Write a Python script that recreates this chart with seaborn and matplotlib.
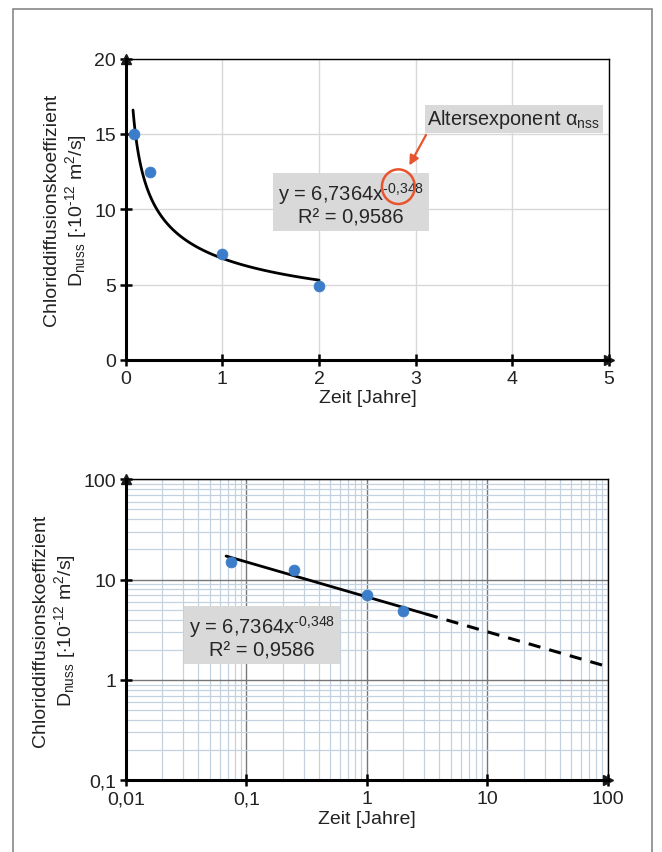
import numpy as np
import pandas as pd
import matplotlib
matplotlib.use("Agg")
import matplotlib.pyplot as plt
import seaborn as sns
from matplotlib.patches import Ellipse, Rectangle
from matplotlib.ticker import FixedLocator, FuncFormatter, LogLocator, NullFormatter

# data
zeit = [0.08, 0.25, 1.0, 2.0]
zeit_log = [0.075, 0.25, 1.0, 2.0]
dnuss = [15.0, 12.5, 7.0, 4.9]
fit_a = 6.7364
fit_b = -0.348
fit_range_top = (0.075, 2.0)
fit_x_solid = [0.068, 3.1]
fit_x_dash = [3.1, 100.0]
eq_text = "y = 6,7364x$^{\u20100{,}348}$\nR² = 0,9586"

sns.set_theme(style="white")
plt.rcParams['font.family'] = ['Liberation Sans', 'DejaVu Sans']
plt.rcParams['mathtext.fontset'] = 'custom'
plt.rcParams['mathtext.rm'] = 'Liberation Sans'
plt.rcParams['mathtext.it'] = 'Liberation Sans:italic'

pts = pd.DataFrame({"Zeit": zeit, "D": dnuss})
pts_log = pd.DataFrame({"Zeit": zeit_log, "D": dnuss})

def fitframe(xs):
    xs = np.array(xs)
    return pd.DataFrame({"Zeit": xs, "D": fit_a * xs ** fit_b})

blue = "#3b7dc8"
red = "#e8542e"
ylab = "Chloriddiffusionskoeffizient\nD$_{\\mathrm{nuss}}$ [$\\cdot$10$^{\u201012}$ m$^2$/s]"

fig = plt.figure(figsize=(6.62, 8.53), dpi=100)
fig.add_artist(Rectangle((0.02, -0.01), 0.965, 0.998, transform=fig.transFigure,
                         fill=False, edgecolor="#888888", lw=1.2))

def style_axes(ax):
    for s in ["top", "right"]:
        ax.spines[s].set_linewidth(1.0)
        ax.spines[s].set_color("black")
    for s in ["left", "bottom"]:
        ax.spines[s].set_linewidth(2.2)
        ax.spines[s].set_color("black")
    ax.tick_params(axis="both", which="major", direction="inout", length=8, width=1.8,
                   labelsize=14, color="black", labelcolor="#222222",
                   bottom=True, left=True, pad=3)
    ax.plot(1, 0, ">k", transform=ax.transAxes, clip_on=False, markersize=7)
    ax.plot(0, 1, "^k", transform=ax.transAxes, clip_on=False, markersize=7)
    ax.set_xlabel("Zeit [Jahre]", fontsize=14, labelpad=2, color="#222222")
    ax.set_ylabel(ylab, fontsize=14, labelpad=4, color="#222222", linespacing=1.15)

# ---- top: linear
ax1 = fig.add_axes([0.19, 0.577, 0.73, 0.353])
sns.lineplot(data=fitframe(np.geomspace(*fit_range_top, 80)), x="Zeit", y="D",
             color="black", lw=2, ax=ax1)
sns.scatterplot(data=pts, x="Zeit", y="D", color=blue, s=60, edgecolor=blue, zorder=5, ax=ax1)
ax1.set_xlim(0, 5)
ax1.set_ylim(0, 20)
ax1.set_xticks([0, 1, 2, 3, 4, 5])
ax1.set_yticks([0, 5, 10, 15, 20])
ax1.grid(True, color="#d8d8d8", lw=1)
style_axes(ax1)
ax1.text(2.33, 10.4, eq_text, ha="center", va="center", fontsize=14.5, linespacing=1.05,
         bbox=dict(boxstyle="square,pad=0.25", fc="#d9d9d9", ec="none"), zorder=6)
ax1.text(3.12, 16.0, "Altersexponent α$_{\\mathrm{nss}}$", ha="left", va="center",
         fontsize=14.3, bbox=dict(boxstyle="square,pad=0.12", fc="#d9d9d9", ec="none"), zorder=6)
ax1.add_patch(Ellipse((2.82, 11.5), 0.34, 2.3, fill=False, ec=red, lw=1.8, zorder=7))
ax1.annotate("", xy=(2.92, 12.75), xytext=(3.12, 15.1),
             arrowprops=dict(arrowstyle="-|>", color=red, lw=1.6, mutation_scale=14), zorder=7)

# ---- bottom: log-log
ax2 = fig.add_axes([0.19, 0.084, 0.728, 0.353])
sns.lineplot(data=fitframe(fit_x_solid), x="Zeit", y="D", color="black", lw=2, ax=ax2)
sns.lineplot(data=fitframe(fit_x_dash), x="Zeit", y="D", color="black", lw=2.2, ax=ax2,
             linestyle=(0, (4, 3)))
sns.scatterplot(data=pts_log, x="Zeit", y="D", color=blue, s=60, edgecolor=blue, zorder=5, ax=ax2)
ax2.set_xscale("log")
ax2.set_yscale("log")
ax2.set_xlim(0.01, 100)
ax2.set_ylim(0.1, 100)
ax2.xaxis.set_major_locator(FixedLocator([0.01, 0.1, 1, 10, 100]))
ax2.yaxis.set_major_locator(FixedLocator([0.1, 1, 10, 100]))
fmt = FuncFormatter(lambda v, p: ("%g" % v).replace(".", ","))
ax2.xaxis.set_major_formatter(fmt)
ax2.yaxis.set_major_formatter(fmt)
ax2.xaxis.set_minor_locator(LogLocator(base=10, subs=np.arange(2, 10)))
ax2.yaxis.set_minor_locator(LogLocator(base=10, subs=np.arange(2, 10)))
ax2.xaxis.set_minor_formatter(NullFormatter())
ax2.yaxis.set_minor_formatter(NullFormatter())
ax2.tick_params(which="minor", length=0)
ax2.grid(True, which="minor", color="#c3d2de", lw=0.9)
ax2.grid(True, which="major", color="#777777", lw=1)
style_axes(ax2)
ax2.text(0.135, 2.72, eq_text, ha="center", va="center", fontsize=14.5, linespacing=1.05,
         bbox=dict(boxstyle="square,pad=0.25", fc="#d9d9d9", ec="none"), zorder=6)

fig.savefig("out.png", dpi=100)
